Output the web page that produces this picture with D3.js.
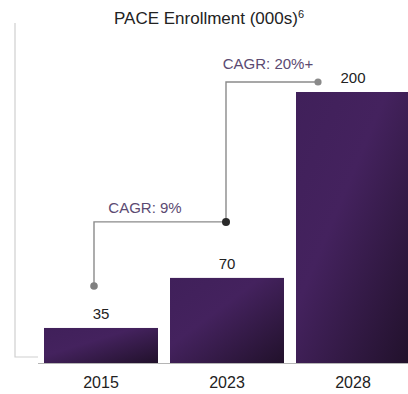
<!DOCTYPE html>
<html>
<head>
<meta charset="utf-8">
<script src="https://cdn.jsdelivr.net/npm/d3@7"></script>
<style>
  body { margin: 0; background: #fff; }
  text { font-family: "Liberation Sans", Arial, sans-serif; }
</style>
</head>
<body>
<div id="chart"></div>
<script>
var years = ["2015", "2023", "2028"];
var enrollment = [35, 70, 200];
var cagrLabels = ["CAGR: 9%", "CAGR: 20%+"];

var width = 408, height = 394;

var svg = d3.select("#chart").append("svg")
    .attr("width", width)
    .attr("height", height);

// gradient for bars
var defs = svg.append("defs");
var grad = defs.append("linearGradient")
    .attr("id", "barGrad")
    .attr("x1", "0%").attr("y1", "0%")
    .attr("x2", "100%").attr("y2", "100%");
grad.append("stop").attr("offset", "0%").attr("stop-color", "#40205a");
grad.append("stop").attr("offset", "40%").attr("stop-color", "#44225e");
grad.append("stop").attr("offset", "100%").attr("stop-color", "#21112b");

var x = d3.scaleBand()
    .domain(years)
    .range([38, 416])
    .paddingInner(12 / 126)
    .paddingOuter(6 / 126);

var y = d3.scaleLinear()
    .domain([10.5, 200])
    .range([363, 92]);

// title
svg.append("text")
    .attr("x", 209)
    .attr("y", 24)
    .attr("text-anchor", "middle")
    .style("font-size", "17px")
    .style("fill", "#222")
    .text("PACE Enrollment (000s)")
  .append("tspan")
    .attr("dy", -6)
    .style("font-size", "11px")
    .text("6");

// left bracket line
svg.append("path")
    .attr("d", "M15,23 V357 H38")
    .attr("fill", "none")
    .attr("stroke", "#cfcfcf")
    .attr("stroke-width", 1.2);

// bars
svg.selectAll("rect.bar")
    .data(enrollment)
    .enter()
    .append("rect")
    .attr("class", "bar")
    .attr("x", function (d, i) { return x(years[i]); })
    .attr("y", function (d) { return y(d); })
    .attr("width", x.bandwidth())
    .attr("height", function (d) { return y(y.domain()[0]) - y(d); })
    .attr("fill", "url(#barGrad)");

// baseline
svg.append("line")
    .attr("x1", 38).attr("x2", width)
    .attr("y1", 363.5).attr("y2", 363.5)
    .attr("stroke", "#b5b5b5")
    .attr("stroke-width", 1);

// value labels
svg.selectAll("text.val")
    .data(enrollment)
    .enter()
    .append("text")
    .attr("class", "val")
    .attr("x", function (d, i) { return x(years[i]) + x.bandwidth() / 2; })
    .attr("y", function (d) { return y(d) - 9; })
    .attr("text-anchor", "middle")
    .style("font-size", "15px")
    .style("fill", "#222")
    .text(function (d) { return d; });

// x axis labels
svg.selectAll("text.year")
    .data(years)
    .enter()
    .append("text")
    .attr("class", "year")
    .attr("x", function (d) { return x(d) + x.bandwidth() / 2; })
    .attr("y", 388)
    .attr("text-anchor", "middle")
    .style("font-size", "16px")
    .style("fill", "#222")
    .text(function (d) { return d; });

// CAGR connectors
var p0 = [x(years[0]) + 50, y(enrollment[0]) - 42];
var p1 = [x(years[1]) + 56, y(enrollment[1]) - 56];
var p2 = [x(years[2]) + 22, y(enrollment[2]) - 10];

var conn = svg.append("g").attr("stroke", "#8a8a8a").attr("stroke-width", 1.4).attr("fill", "none");
conn.append("path").attr("d", "M" + p0[0] + "," + p0[1] + " V" + p1[1] + " H" + p1[0]);
conn.append("path").attr("d", "M" + p1[0] + "," + p1[1] + " V" + p2[1] + " H" + p2[0]);

svg.append("circle").attr("cx", p0[0]).attr("cy", p0[1]).attr("r", 3.8).attr("fill", "#808080");
svg.append("circle").attr("cx", p1[0]).attr("cy", p1[1]).attr("r", 4).attr("fill", "#2a2a2a");
svg.append("circle").attr("cx", p2[0]).attr("cy", p2[1]).attr("r", 3.6).attr("fill", "#8a8a8a");

svg.append("text")
    .attr("x", (p0[0] + p1[0]) / 2 - 15)
    .attr("y", p1[1] - 9)
    .attr("text-anchor", "middle")
    .style("font-size", "15px")
    .style("fill", "#5b4a72")
    .text(cagrLabels[0]);

svg.append("text")
    .attr("x", (p1[0] + p2[0]) / 2 - 4)
    .attr("y", p2[1] - 13)
    .attr("text-anchor", "middle")
    .style("font-size", "15px")
    .style("fill", "#5b4a72")
    .text(cagrLabels[1]);
</script>
</body>
</html>
